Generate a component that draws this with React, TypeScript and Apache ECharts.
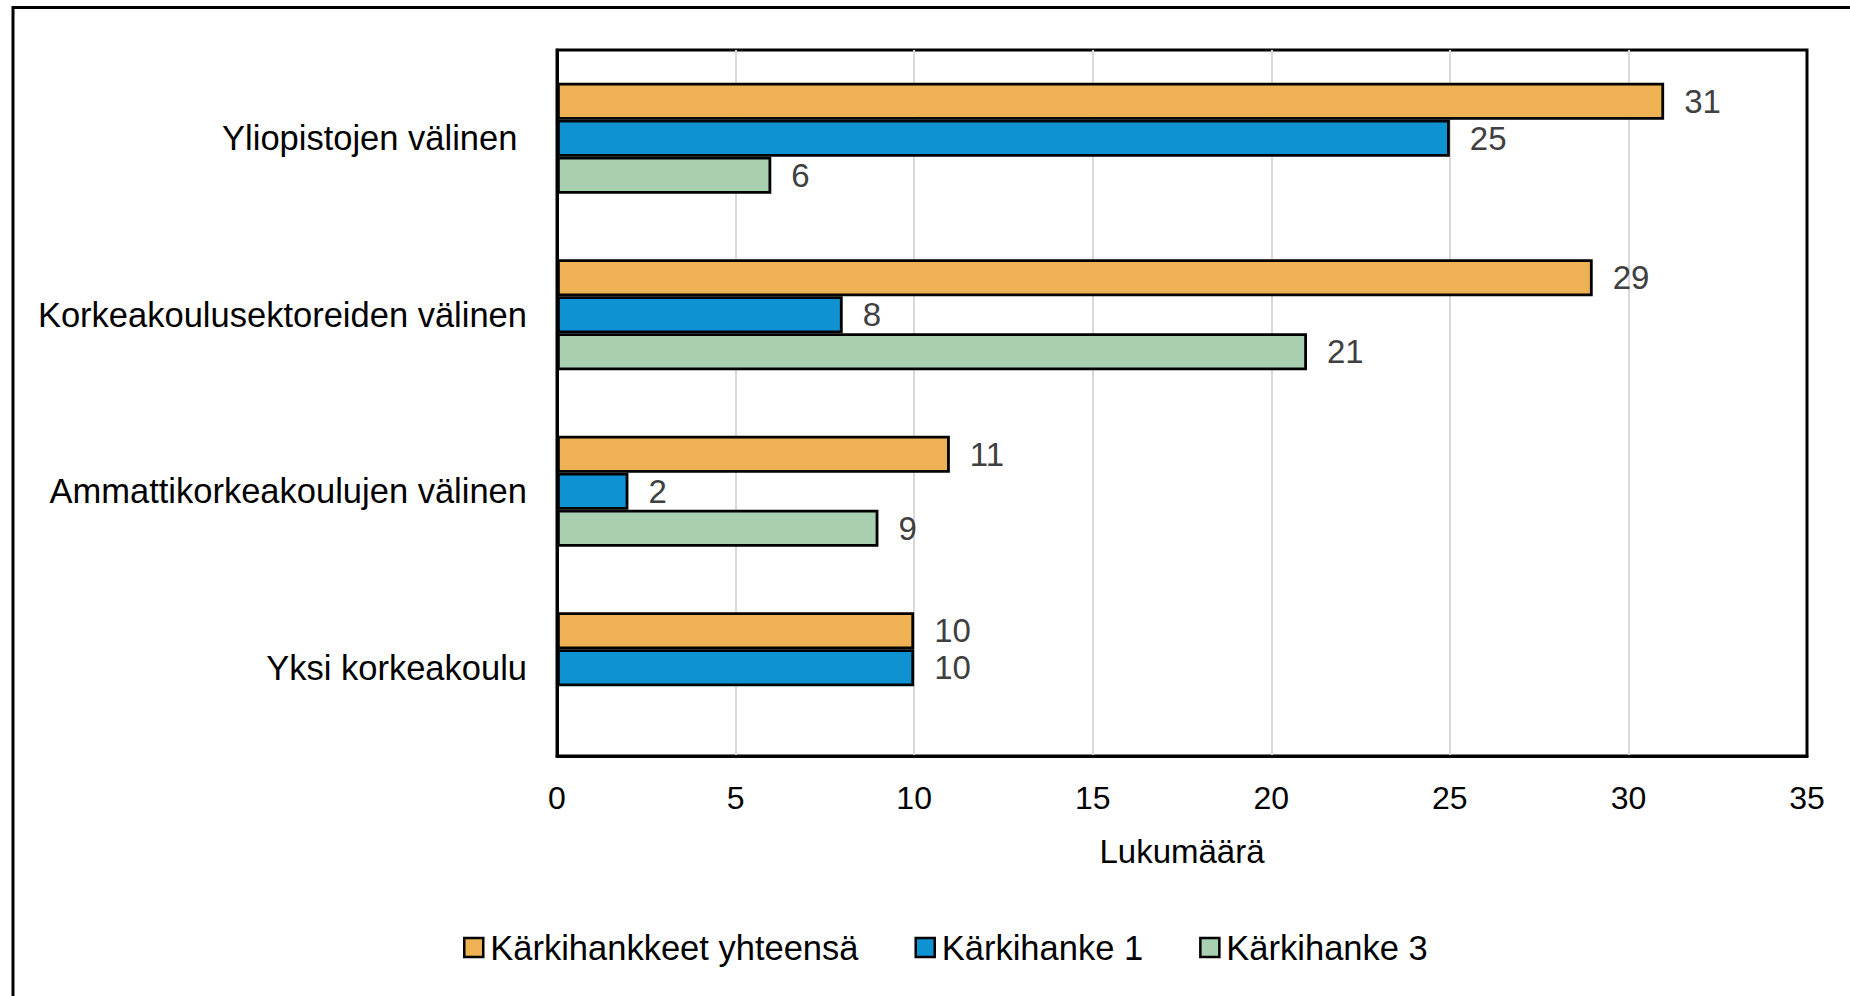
import React, { useEffect, useRef } from "react";
import * as echarts from "echarts";

const categories = [
  "Yliopistojen välinen ",
  "Korkeakoulusektoreiden välinen",
  "Ammattikorkeakoulujen välinen",
  "Yksi korkeakoulu",
];
const seriesNames = ["Kärkihankkeet yhteensä", "Kärkihanke 1", "Kärkihanke 3"];
const totalValues = [31, 29, 11, 10];
const hanke1Values = [25, 8, 2, 10];
const hanke3Values: (number | null)[] = [6, 21, 9, null];
const seriesColors = ["#EEB254", "#0E92D2", "#A8D0B0"];
const xTicks = { min: 0, max: 35, interval: 5 };

const FONT = "'Liberation Sans', Arial, sans-serif";

export default function App() {
  const ref = useRef<HTMLDivElement>(null);
  useEffect(() => {
    document.body.style.margin = "0";
    if (!ref.current) return;
    const chart = echarts.init(ref.current, undefined, { renderer: "svg" });
    const data = [totalValues, hanke1Values, hanke3Values];
    chart.setOption({
      animation: false,
      backgroundColor: "#ffffff",
      textStyle: { fontFamily: FONT },
      graphic: [
        {
          type: "rect",
          shape: { x: 13, y: 7.5, width: 1900, height: 1100 },
          style: { fill: "none", stroke: "#000", lineWidth: 3 },
          silent: true,
        },
      ],
      legend: {
        data: seriesNames,
        left: 463,
        top: 930,
        padding: 0,
        icon: "rect",
        itemWidth: 19,
        itemHeight: 19,
        itemGap: 56,
        itemStyle: { borderColor: "#000", borderWidth: 2.5 },
        textStyle: {
          fontFamily: FONT,
          fontSize: 34.5,
          color: "#000",
          padding: [0, 0, 0, 2],
        },
      },
      grid: {
        left: 557,
        right: 43,
        top: 50,
        bottom: 240,
        show: true,
        borderColor: "#000",
        borderWidth: 3,
        containLabel: false,
      },
      xAxis: {
        type: "value",
        min: xTicks.min,
        max: xTicks.max,
        interval: xTicks.interval,
        name: "Lukumäärä",
        nameLocation: "middle",
        nameGap: 79,
        nameTextStyle: { fontFamily: FONT, fontSize: 33, color: "#000" },
        axisLine: { show: true, lineStyle: { color: "#000", width: 3 } },
        axisTick: { show: false },
        axisLabel: { fontFamily: FONT, fontSize: 32, color: "#000", margin: 26 },
        splitLine: {
          show: true,
          showMinLine: false,
          showMaxLine: false,
          lineStyle: { color: "#d9d9d9", width: 2 },
        },
      },
      yAxis: {
        type: "category",
        data: categories,
        inverse: true,
        axisLine: { show: true, lineStyle: { color: "#000", width: 3 } },
        axisTick: { show: false },
        axisLabel: { fontFamily: FONT, fontSize: 34.5, color: "#000", margin: 30 },
        splitLine: { show: false },
      },
      series: seriesNames.map((name, i) => ({
        name,
        type: "bar",
        data: data[i],
        barGap: "0%",
        barCategoryGap: "37%",
        itemStyle: {
          color: seriesColors[i],
          borderColor: "#000",
          borderWidth: 2.8,
        },
        label: {
          show: true,
          position: "right",
          distance: 20,
          fontFamily: FONT,
          fontSize: 33,
          color: "#404040",
        },
      })),
    });
    return () => chart.dispose();
  }, []);
  return (
    <div
      ref={ref}
      style={{ position: "absolute", left: 0, top: 0, width: 1850, height: 996 }}
    />
  );
}
